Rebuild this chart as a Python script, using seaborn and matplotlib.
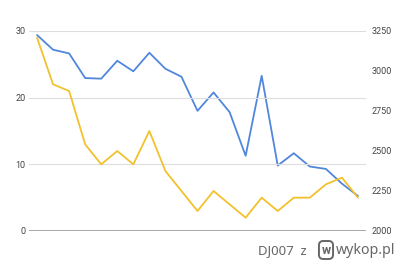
import matplotlib
matplotlib.use("Agg")
import matplotlib.pyplot as plt
import seaborn as sns
import pandas as pd

idx = list(range(21))
yellow_left = [29, 22, 21, 13, 10, 12, 10, 15, 9, 6, 3, 6, 4, 2, 5, 3, 5, 5, 7, 8, 5]
blue_right = [3225, 3133, 3110, 2956, 2952, 3064, 2998, 3114, 3014, 2964, 2751,
              2866, 2743, 2470, 2970, 2409, 2486, 2403, 2388, 2296, 2219]
left_ticks = [0, 10, 20, 30]
right_ticks = [2000, 2250, 2500, 2750, 3000, 3250]

df = pd.DataFrame({"i": idx, "yellow": yellow_left, "blue": blue_right})

sns.set_theme(style="white")
plt.rcParams['font.family'] = ['Roboto', 'DejaVu Sans']

fig = plt.figure(figsize=(4.0, 2.65), dpi=100)
ax = fig.add_axes([29/400, 1 - 231/265, (366-29)/400, (231-31)/265])
ax2 = ax.twinx()

sns.lineplot(data=df, x="i", y="yellow", ax=ax, color="#f2c12e", linewidth=1.3)
sns.lineplot(data=df, x="i", y="blue", ax=ax2, color="#5087dc", linewidth=1.3)

ax.set_xlim(-0.5, 20.5)
ax.set_ylim(0, 30)
ax2.set_ylim(2000, 3250)
ax.set_yticks(left_ticks)
ax2.set_yticks(right_ticks)
ax.set_xticks([])
ax.set_xlabel("")
ax.set_ylabel("")
ax2.set_ylabel("")
ax.grid(axis="y", color="#dddddd", linewidth=0.8)
ax2.grid(False)
for a in (ax, ax2):
    for s in a.spines.values():
        s.set_visible(False)
    a.tick_params(axis="y", length=0, labelsize=6.5, labelcolor="#444444")
ax.tick_params(axis="y", pad=2.5)
ax2.tick_params(axis="y", pad=4)
ax.axhline(0, color="#999999", linewidth=1.2, zorder=3)
ax.set_zorder(ax2.get_zorder() + 1)
ax.patch.set_visible(False)

fig.text(258/400, 1 - 251/265, "DJ007  z", fontsize=9.5, color="#666666", va="center", ha="left",
         family=['Noto Sans', 'DejaVu Sans'])
fig.text(336/400, 1 - 250/265, "wykop.pl", fontsize=10.2, color="#666666", va="center", ha="left",
         family=['Noto Sans', 'DejaVu Sans'])
fig.text(326/400, 1 - 250/265, "w", fontsize=9, color="#666666", va="center", ha="center",
         fontweight="bold",
         bbox=dict(boxstyle="round,pad=0.2,rounding_size=0.35", fc="white", ec="#666666", lw=1.4))

fig.savefig("out.png", dpi=100)
